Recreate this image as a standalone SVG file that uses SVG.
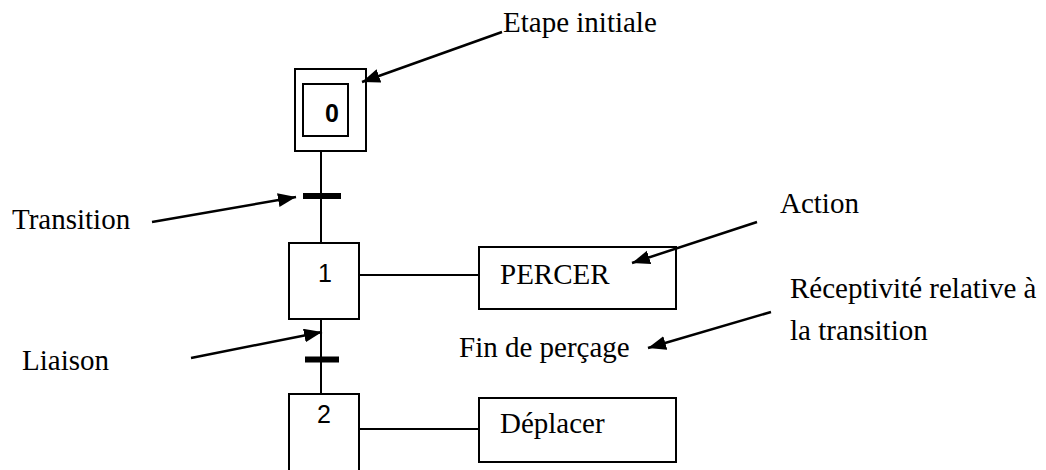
<svg xmlns="http://www.w3.org/2000/svg" width="1046" height="470" viewBox="0 0 1046 470">
<style>
.box{fill:#fff;stroke:#000;stroke-width:2}
.lk{stroke:#000;stroke-width:2;fill:none}
.bar{stroke:#000;stroke-width:6}
.ar{stroke:#000;stroke-width:2.5;fill:none;marker-end:url(#ah)}
.t{font-family:"Liberation Serif","Times New Roman",serif;font-size:29px;fill:#000}
.n{font-family:"Liberation Sans",Arial,sans-serif;font-size:25px;fill:#000;text-anchor:middle}
</style>
<defs>
<marker id="ah" markerUnits="userSpaceOnUse" markerWidth="20" markerHeight="16" refX="18" refY="7" orient="auto">
<path d="M0,0 L18,7 L0,14 Z" fill="#000"/>
</marker>
</defs>
<rect width="1046" height="470" fill="#fff"/>
<g id="connectors">
<line class="lk" x1="321" y1="151" x2="321" y2="243"/>
<line class="bar" x1="303" y1="196" x2="341" y2="196"/>
<line class="lk" x1="321" y1="319" x2="321" y2="394"/>
<line class="bar" x1="305" y1="359.5" x2="339" y2="359.5"/>
<line class="lk" x1="359" y1="275" x2="479" y2="275"/>
<line class="lk" x1="359" y1="429" x2="479" y2="429"/>
</g>
<g id="step0">
<rect class="box" x="295" y="69" width="71" height="82"/>
<rect class="box" x="303" y="84" width="45" height="52"/>
<text class="n" x="332" y="122" font-weight="bold">0</text>
</g>
<g id="step1">
<rect class="box" x="289" y="243" width="70" height="76"/>
<text class="n" x="325" y="282">1</text>
</g>
<g id="step2">
<rect class="box" x="289" y="394" width="70" height="90"/>
<text class="n" x="324" y="423">2</text>
</g>
<g id="action1">
<rect class="box" x="479" y="247" width="197" height="62"/>
<text class="t" x="500" y="284">PERCER</text>
</g>
<g id="action2">
<rect class="box" x="479" y="398" width="197" height="64"/>
<text class="t" x="500" y="433">Déplacer</text>
</g>
<g id="annotations">
<line class="ar" x1="502" y1="32" x2="362" y2="82"/>
<line class="ar" x1="152" y1="222" x2="296" y2="197"/>
<line class="ar" x1="191" y1="358" x2="322" y2="332"/>
<line class="ar" x1="757" y1="222" x2="632" y2="263"/>
<line class="ar" x1="771" y1="312" x2="648" y2="348"/>
<text class="t" x="503" y="32">Etape initiale</text>
<text class="t" x="12" y="229">Transition</text>
<text class="t" x="22" y="370">Liaison</text>
<text class="t" x="780" y="213">Action</text>
<text class="t" x="459" y="357">Fin de perçage</text>
<text class="t" x="790" y="298">Réceptivité relative à</text>
<text class="t" x="790" y="340">la transition</text>
</g>
</svg>
